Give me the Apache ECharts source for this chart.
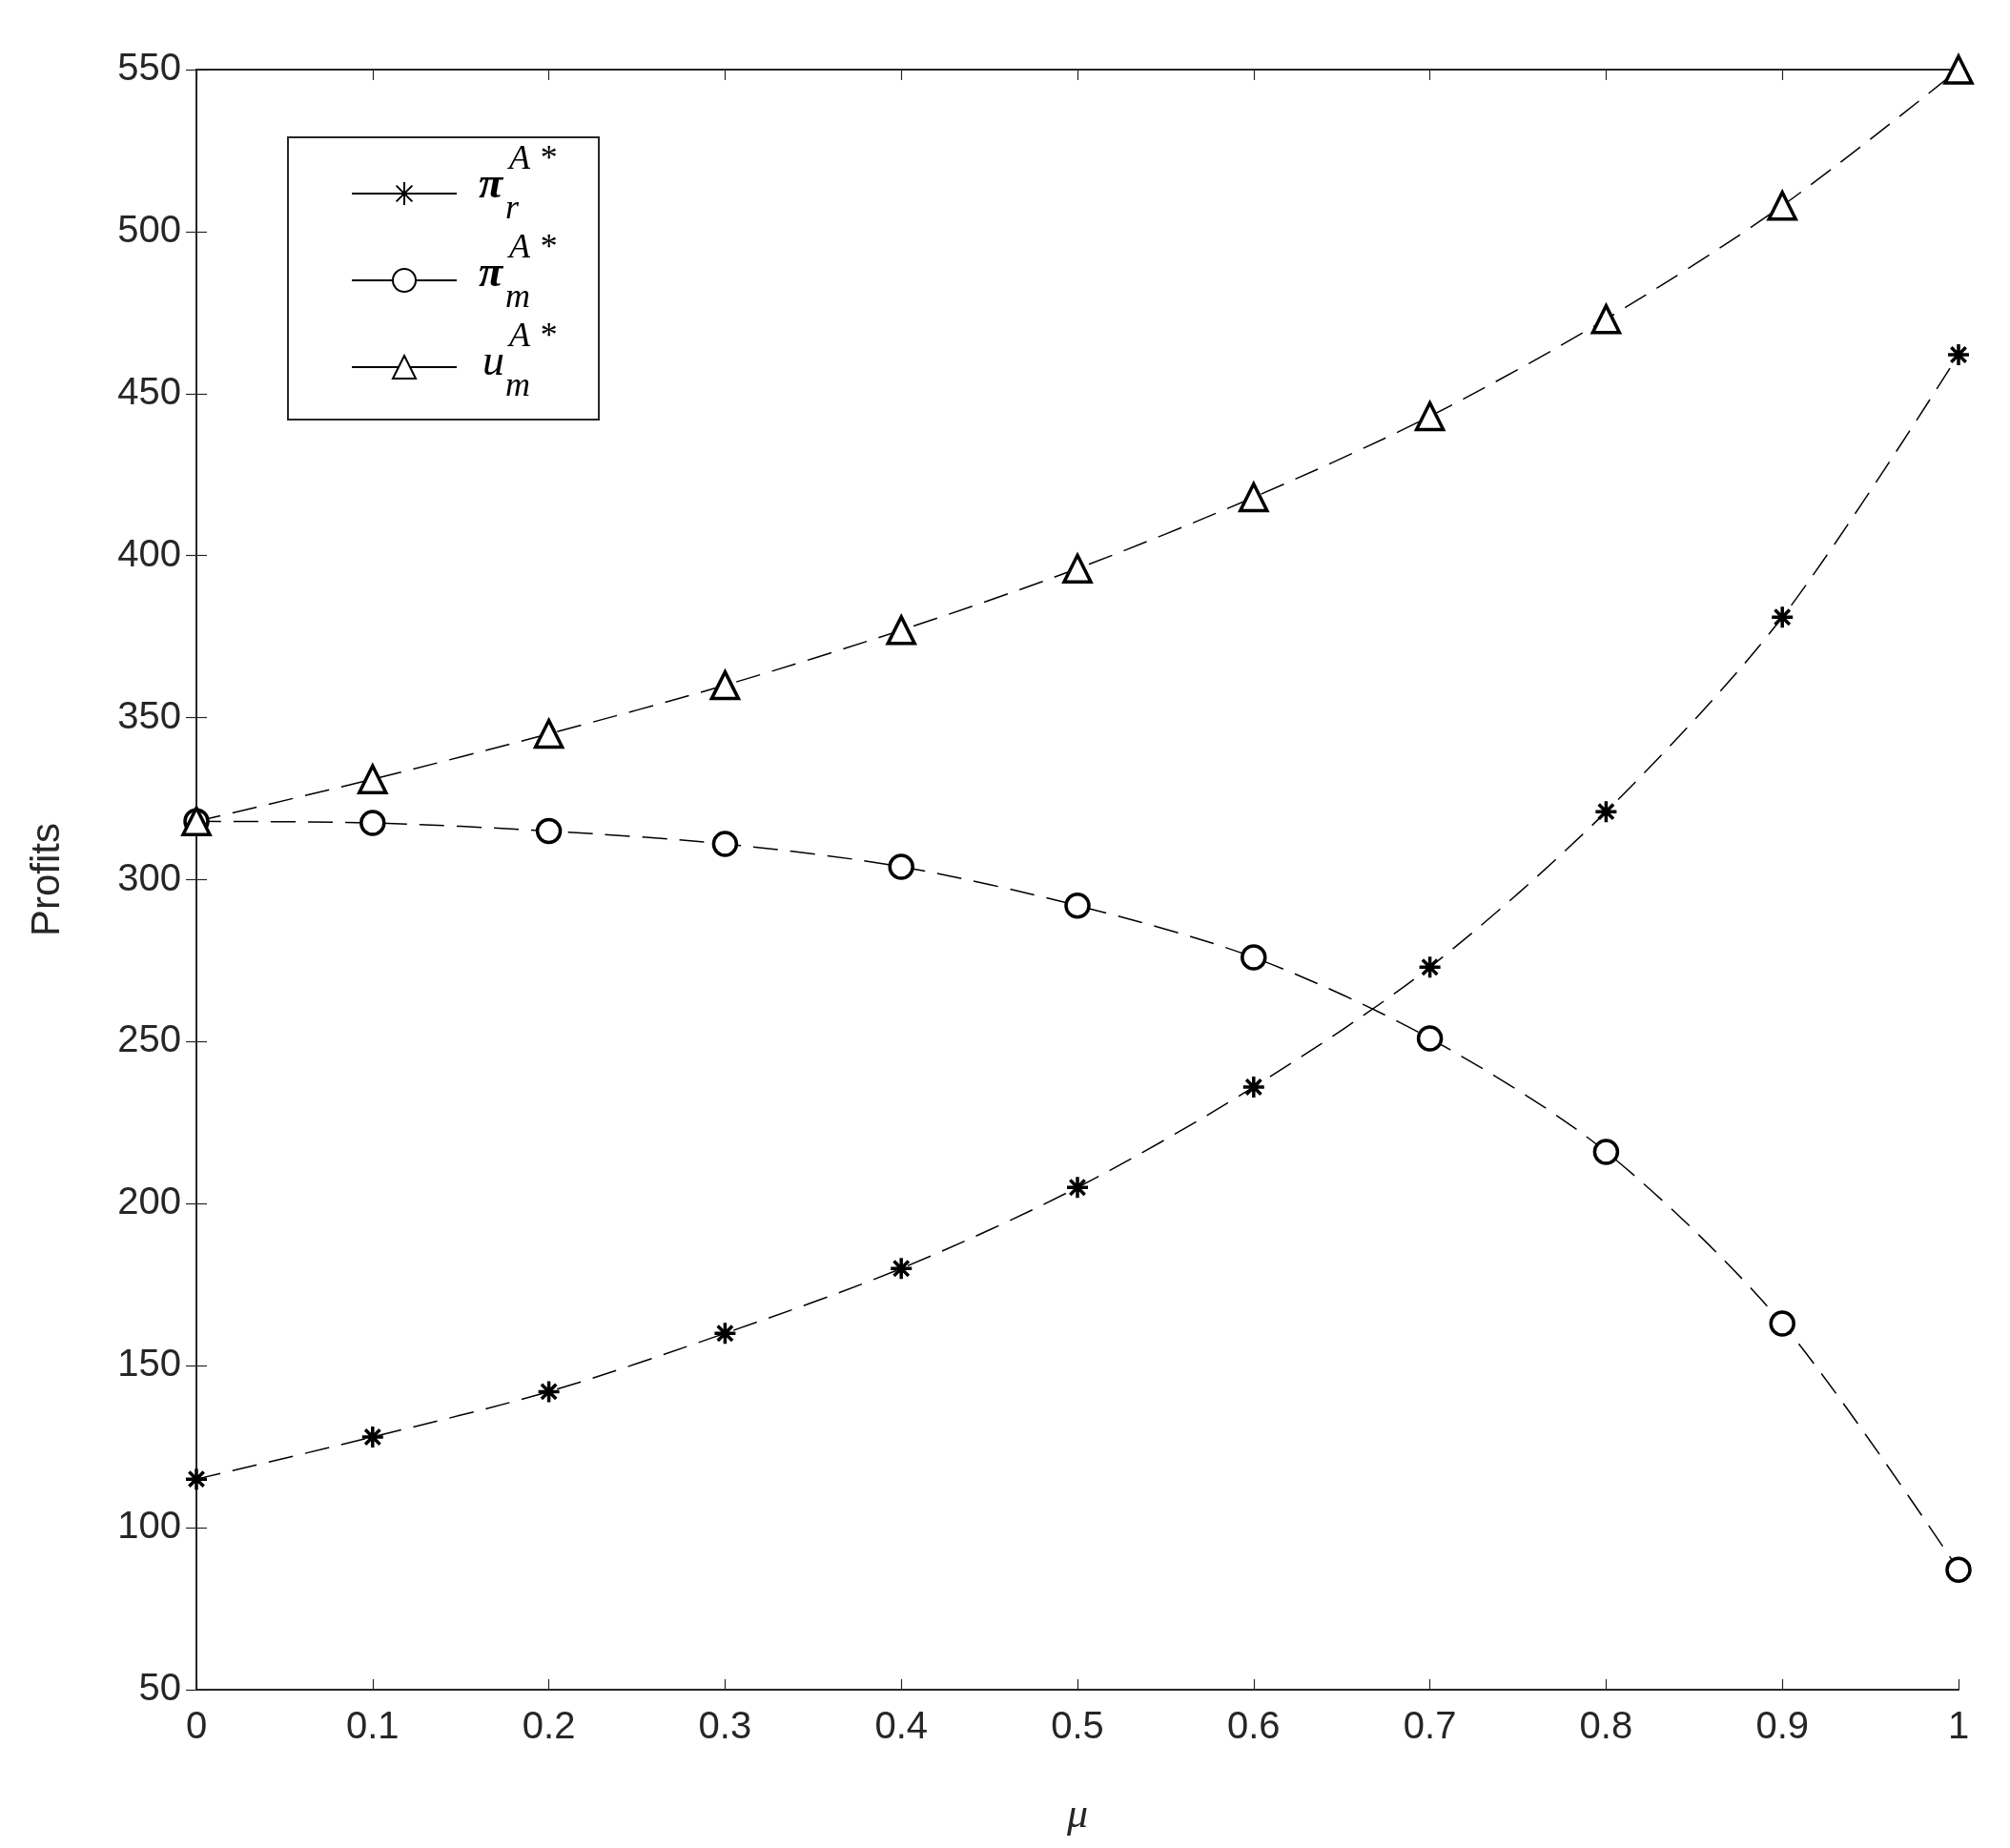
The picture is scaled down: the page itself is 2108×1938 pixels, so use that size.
<!DOCTYPE html>
<html>
<head>
<meta charset="utf-8">
<script src="https://cdn.jsdelivr.net/npm/echarts@6/dist/echarts.min.js"></script>
<style>html,body{margin:0;padding:0;background:#fff}#main{width:2108px;height:1938px}</style>
</head>
<body>
<div id="main"></div>
<script>
var mu = [0, 0.1, 0.2, 0.3, 0.4, 0.5, 0.6, 0.7, 0.8, 0.9, 1];
var piR = [115, 128, 142, 160, 180, 205, 236, 273, 321, 381, 462];
var piM = [318, 317.5, 315, 311, 304, 292, 276, 251, 216, 163, 87];
var uM = [318, 331, 345, 360, 377, 396, 418, 443, 473, 508, 550];
var yTicks = [50, 550, 50];

function pairs(ys) {
    return mu.map(function (x, i) { return [x, ys[i]]; });
}

var starPath = 'path://M0,-10L0,10M-10,0L10,0M-7,-7L7,7M-7,7L7,-7';
var lineStyle = {color: '#000', width: 1.5, type: [26, 13]};
var font = 'Liberation Sans, Arial, sans-serif';

function mkSeries(name, ys, symbol, size, itemStyle) {
    return {
        name: name, type: 'line', data: pairs(ys), smooth: 0.3,
        symbol: symbol, symbolSize: size, lineStyle: lineStyle,
        itemStyle: itemStyle, z: 3
    };
}

var chart = echarts.init(document.getElementById('main'));
var axisCommon = {
    axisLine: {lineStyle: {color: '#262626', width: 2}},
    axisTick: {inside: true, length: 11, lineStyle: {color: '#262626', width: 1.2}},
    splitLine: {show: false}
};
var labelStyle = {color: '#262626', fontSize: 40, fontFamily: font};

var option = {
    backgroundColor: '#fff',
    animation: false,
    grid: {left: 206, right: 54, top: 73, bottom: 166},
    xAxis: [
        Object.assign({type: 'value', min: 0, max: 1, interval: 0.1, position: 'bottom',
            name: 'μ', nameLocation: 'middle', nameGap: 110,
            nameTextStyle: {fontSize: 44, fontStyle: 'italic', fontFamily: 'Liberation Serif, serif', color: '#262626'},
            axisLabel: Object.assign({margin: 20, formatter: function (v) { return String(+v.toFixed(1)); }}, labelStyle)
        }, axisCommon),
        Object.assign({type: 'value', min: 0, max: 1, interval: 0.1, position: 'top', axisLabel: {show: false}}, axisCommon)
    ],
    yAxis: [
        Object.assign({type: 'value', min: yTicks[0], max: yTicks[1], interval: yTicks[2], position: 'left',
            name: 'Profits', nameLocation: 'middle', nameGap: 135,
            nameTextStyle: {fontSize: 42, fontFamily: font, color: '#262626'},
            axisLabel: Object.assign({margin: 16}, labelStyle)
        }, axisCommon),
        Object.assign({type: 'value', min: yTicks[0], max: yTicks[1], interval: yTicks[2], position: 'right', axisLabel: {show: false}}, axisCommon)
    ],
    legend: {
        orient: 'vertical', left: 363, top: 183, itemWidth: 110, itemHeight: 30, itemGap: 63,
        formatter: function () { return ''; },
        textStyle: {fontSize: 1},
        lineStyle: {type: 'solid', width: 2},
        data: ['pr', 'pm', 'um'],
        selectedMode: false
    },
    graphic: [
        {type: 'rect', shape: {x: 302, y: 144, width: 326, height: 296}, style: {fill: 'none', stroke: '#262626', lineWidth: 2}, z: 1},
        {type: 'text', left: 502, top: 172, style: {text: 'π', font: 'bold italic 46px Liberation Serif', fill: '#000'}},
        {type: 'text', left: 534, top: 150, style: {text: 'A *', font: 'italic 36px Liberation Serif', fill: '#000'}},
        {type: 'text', left: 530, top: 202, style: {text: 'r', font: 'italic 36px Liberation Serif', fill: '#000'}},
        {type: 'text', left: 502, top: 265, style: {text: 'π', font: 'bold italic 46px Liberation Serif', fill: '#000'}},
        {type: 'text', left: 534, top: 243, style: {text: 'A *', font: 'italic 36px Liberation Serif', fill: '#000'}},
        {type: 'text', left: 530, top: 295, style: {text: 'm', font: 'italic 36px Liberation Serif', fill: '#000'}},
        {type: 'text', left: 506, top: 358, style: {text: 'u', font: 'italic 46px Liberation Serif', fill: '#000'}},
        {type: 'text', left: 534, top: 336, style: {text: 'A *', font: 'italic 36px Liberation Serif', fill: '#000'}},
        {type: 'text', left: 530, top: 388, style: {text: 'm', font: 'italic 36px Liberation Serif', fill: '#000'}}
    ],
    series: [
        mkSeries('pr', piR, starPath, 22, {color: '#000', borderColor: '#000', borderWidth: 3.5}),
        mkSeries('pm', piM, 'circle', 24, {color: '#fff', borderColor: '#000', borderWidth: 3.5}),
        mkSeries('um', uM, 'triangle', 28, {color: '#fff', borderColor: '#000', borderWidth: 3.5})
    ]
};
chart.setOption(option);
</script>
</body>
</html>
